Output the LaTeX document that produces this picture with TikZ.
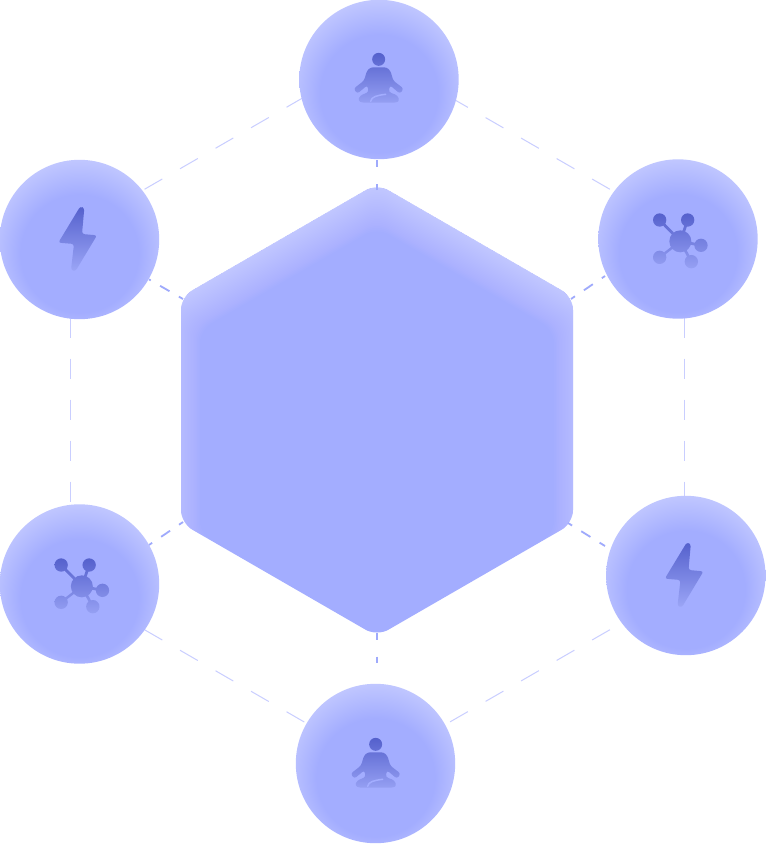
\documentclass[tikz,border=0pt]{standalone}
\usetikzlibrary{calc}
\definecolor{basec}{HTML}{A3ADFF}
\definecolor{lightc}{HTML}{C9CFFF}
\definecolor{rimc}{HTML}{C9CEFF}
\definecolor{spokec}{HTML}{9FAAFC}
\definecolor{icontop}{HTML}{5460CC}
\definecolor{iconbot}{HTML}{9CA6F7}
% the edge of the node sits at 25bp of the shading: radius 80 = 25bp
\pgfdeclareradialshading{orb}{\pgfpoint{0bp}{-7bp}}{%
  rgb(0bp)=(0.639,0.678,1);
  rgb(18.5bp)=(0.639,0.678,1);
  rgb(32bp)=(0.80,0.82,1);
  rgb(50bp)=(0.80,0.82,1)}
\tikzset{
  orbnode/.style={circle,minimum size=159.4pt,inner sep=0pt,outer sep=0pt,shade,shading=orb},
  rimline/.style={draw=rimc,line width=1pt,dash pattern=on 20.5pt off 20.5pt,dash phase=37.5pt},
  spokev/.style={draw=spokec,line width=1.8pt,dash pattern=on 6.5pt off 17pt},
  spoked/.style={draw=spokec,line width=1.8pt,dash pattern=on 10.8pt off 10.8pt,dash phase=6pt},
  icongrad/.style={top color=icontop,bottom color=iconbot,draw=none},
  swoosh/.style={draw=basec,line width=1.5pt,line cap=round},
}
% icons are written in the coordinates of 3x crops
\newcommand{\iconperson}[2]{%
\begin{scope}[shift={(#1,#2)},x=0.3333pt,y=-0.3333pt]
  \begin{scope}
    \path[clip] (116,58) circle[radius=19.5]
      [rounded corners=2.5pt] (92,82) -- (140,82) -- (151,92) -- (160,122) -- (191,146) -- (180,161) -- (150,136)
      -- (146,156) -- (172,166) -- (179,182) -- (168,188) -- (66,188) -- (54,182) -- (60,167) -- (86,156) -- (82,136)
      -- (52,161) -- (41,146) -- (72,122) -- (81,92) -- cycle;
    \shade[icongrad] (30,38) rectangle (200,205);
  \end{scope}
  \draw[swoosh] (92,184) .. controls (94,170) and (112,166) .. (137,163);
\end{scope}}
\newcommand{\iconbolt}[2]{%
\begin{scope}[shift={(#1,#2)},x=0.3333pt,y=-0.3333pt]
  \begin{scope}
    \path[clip][rounded corners=2.5pt] (241,139) -- (253,144) -- (246,222) -- (291,226) -- (226,334) -- (213,330)
      -- (222,252) -- (175,248) -- cycle;
    \shade[icongrad] (170,138) rectangle (295,336);
  \end{scope}
\end{scope}}
\newcommand{\iconnet}[2]{%
\begin{scope}[shift={(#1,#2)},x=0.3333pt,y=-0.3333pt]
  \begin{scope}
    \path[clip] (121,124) circle[radius=33] (59,60) circle[radius=20] (143,60) circle[radius=20]
      (183,136) circle[radius=20] (59,172) circle[radius=20] (154,185) circle[radius=20]
      (118,127) -- (56,63) -- (62,57) -- (124,121) -- cycle
      (117,123) -- (139,59) -- (147,61) -- (125,125) -- cycle
      (122,120) -- (184,132) -- (182,140) -- (120,128) -- cycle
      (123,127) -- (61,175) -- (57,169) -- (119,121) -- cycle
      (124.5,122) -- (157.5,183) -- (150.5,187) -- (117.5,126) -- cycle;
    \shade[icongrad] (30,38) rectangle (210,220);
  \end{scope}
\end{scope}}
\newcommand{\hexpt}[2]{({377+\hs*(#1)},{\hc+\hs*(#2)})}
\newcommand{\hexoutline}{%
  \hexpt{0}{-226.3} -- \hexpt{196}{-113.15} -- \hexpt{196}{113.15} -- \hexpt{0}{226.3}
  -- \hexpt{-196}{113.15} -- \hexpt{-196}{-113.15} -- cycle}
\begin{document}
\begin{tikzpicture}[x=1pt,y=-1pt]
\useasboundingbox (0,0) rectangle (766,844);
\fill[white] (0,0) rectangle (766,844);

% dashed outer hexagon
\coordinate (oT) at (377,55);
\coordinate (oTR) at (684,232);
\coordinate (oBR) at (684,587);
\coordinate (oB) at (377,764);
\coordinate (oBL) at (70.5,587);
\coordinate (oTL) at (70.5,232);
\draw[rimline] (oTL) -- (oT);
\draw[rimline] (oTR) -- (oT);
\draw[rimline] (oTR) -- (oBR);
\draw[rimline] (oTL) -- (oBL);
\draw[rimline] (oBR) -- (oB);
\draw[rimline] (oBL) -- (oB);

% central hexagon with inner glow
\def\hs{1}\def\hc{410}
\fill[basec,rounded corners=13pt] \hexoutline;
\begin{scope}
  \path[clip,rounded corners=13pt] \hexoutline;
  \def\hc{432}
  \foreach \t in {-20,-18.5,...,20}{
    \pgfmathsetmacro{\hs}{(196-\t)/196}
    \fill[white,opacity=0.025,even odd rule,rounded corners=13pt] (100,100) rectangle (660,720) \hexoutline;
  }
\end{scope}

% spokes
\coordinate (hT) at (377,190);
\coordinate (hB) at (377,633);
\coordinate (hTL) at (183,299);
\coordinate (hTR) at (571,299);
\coordinate (hBL) at (183,522);
\coordinate (hBR) at (568,523);
\coordinate (eT) at (377,158);
\coordinate (eB) at (377,664);
\coordinate (eTL) at (149,279.4);
\coordinate (eTR) at (605,276);
\coordinate (eBL) at (149,545);
\coordinate (eBR) at (605,546);
\draw[spokev] (hT) -- (eT);
\draw[spokev] (hB) -- (eB);
\draw[spoked] (hTL) -- (eTL);
\draw[spoked] (hTR) -- (eTR);
\draw[spoked] (hBL) -- (eBL);
\draw[spoked] (hBR) -- (eBR);

% orbs
\node[orbnode] (cT) at (379,79.5) {};
\node[orbnode] (cTL) at (79.5,239.5) {};
\node[orbnode] (cTR) at (678,239) {};
\node[orbnode] (cBL) at (79.5,584) {};
\node[orbnode] (cBR) at (685.8,575.5) {};
\node[orbnode] (cB) at (375.5,763.5) {};

% icons
\iconperson{340}{40}
\iconperson{337}{725}
\iconbolt{0}{160}
\iconbolt{606.5}{496}
\iconnet{640}{200}
\iconnet{41.5}{545}
\end{tikzpicture}
\end{document}
